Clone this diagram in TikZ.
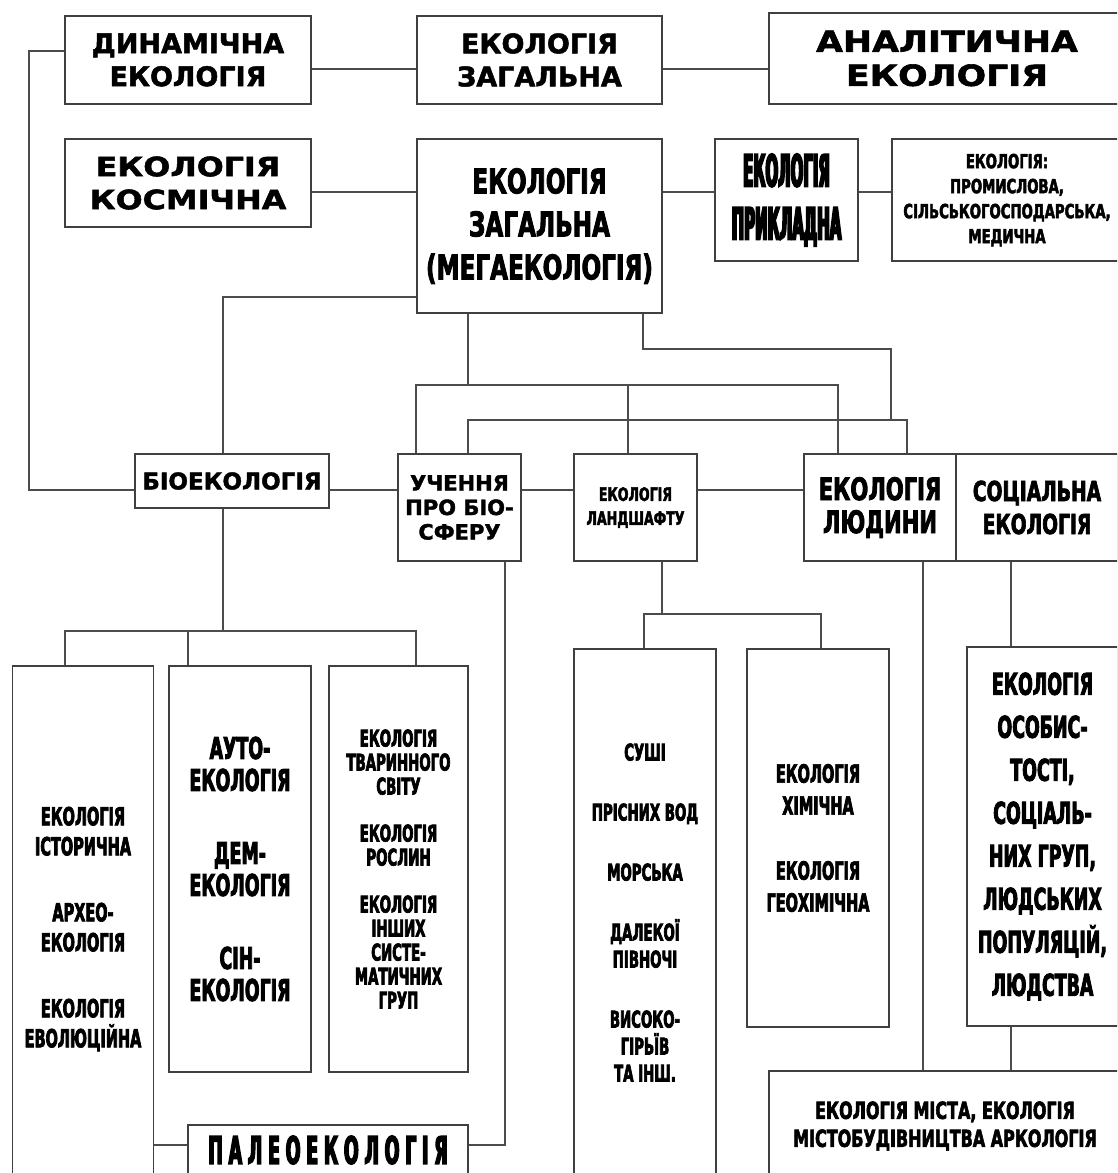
\documentclass[tikz,border=0pt]{standalone}
\usepackage{fontspec}
\setmainfont{DejaVu Sans}[BoldFeatures={FakeBold=1.8}]
\newfontfamily\wideface{DejaVu Sans}[FakeStretch=1.2, BoldFeatures={FakeBold=2}]
\newfontfamily\narrowface{DejaVu Sans}[FakeStretch=0.68, BoldFeatures={FakeBold=2.4}]
\newfontfamily\condface{DejaVu Sans}[FakeStretch=0.58, BoldFeatures={FakeBold=2.8}]
\newfontfamily\thinface{DejaVu Sans}[FakeStretch=0.34, BoldFeatures={FakeBold=4}]
\newfontfamily\paleoface{DejaVu Sans}[FakeStretch=0.46, LetterSpace=15, BoldFeatures={FakeBold=3.5}]
\newcommand\ecosize[2]{\fontsize{#1}{#2}\selectfont\bfseries}

\begin{document}
\begin{tikzpicture}[
						x=1pt, y=-1pt,
						eco/.style={draw=black!75, line width=1.8pt, align=center, inner sep=2pt},
						wire/.style={draw=black!70, line width=1.8pt}
				]
    \useasboundingbox (0,0) rectangle (1117,1173);
    \clip (0,0) rectangle (1117,1173);

    % top rows
    \node[eco, minimum width=246pt, minimum height=88pt, font=\ecosize{27}{33}] (DynamicEco) at (188,60) {ДИНАМІЧНА\\ЕКОЛОГІЯ};
    \node[eco, minimum width=245pt, minimum height=88pt, font=\ecosize{27}{33}] (GeneralTop) at (539.5,60) {ЕКОЛОГІЯ\\ЗАГАЛЬНА};
    \node[eco, minimum width=356pt, minimum height=91pt, font={\wideface\ecosize{29}{34}}] (AnalyticEco) at (947,58.5) {АНАЛІТИЧНА\\ЕКОЛОГІЯ};
    \node[eco, minimum width=246pt, minimum height=88pt, font={\wideface\ecosize{26.5}{33}}] (CosmicEco) at (188,183) {ЕКОЛОГІЯ\\КОСМІЧНА};
    \node[eco, minimum width=245pt, minimum height=174pt, font={\narrowface\ecosize{34}{43}}] (MegaEco) at (539.5,226) {ЕКОЛОГІЯ\\ЗАГАЛЬНА\\(МЕГАЕКОЛОГІЯ)};
    \node[eco, minimum width=143pt, minimum height=122pt, font={\thinface\ecosize{44}{53}}] (AppliedEco) at (786.5,200) {ЕКОЛОГІЯ\\ПРИКЛАДНА};
    \node[eco, minimum width=230pt, minimum height=122pt, font={\narrowface\ecosize{19.5}{25}}] (IndustryEco) at (1007,200) {ЕКОЛОГІЯ:\\ПРОМИСЛОВА,\\СІЛЬСЬКОГОСПОДАРСЬКА,\\МЕДИЧНА};

    % middle row
    \node[eco, minimum width=194pt, minimum height=54pt, font=\ecosize{23}{28}] (BioEco) at (232,481) {БІОЕКОЛОГІЯ};
    \node[eco, minimum width=123pt, minimum height=107pt, font=\ecosize{21}{24.5}] (Biosphere) at (459.5,507.5) {УЧЕННЯ\\ПРО БІО-\\СФЕРУ};
    \node[eco, minimum width=123pt, minimum height=107pt, font={\narrowface\ecosize{18.5}{24}}] (Landscape) at (635.5,507.5) {ЕКОЛОГІЯ\\ЛАНДШАФТУ};
    \node[eco, minimum width=152pt, minimum height=107pt, font={\narrowface\ecosize{31}{33}}] (HumanEco) at (880,507.5) {ЕКОЛОГІЯ\\ЛЮДИНИ};
    \node[eco, minimum width=162pt, minimum height=107pt, font={\narrowface\ecosize{27.5}{33}}] (SocialEco) at (1037,507.5) {СОЦІАЛЬНА\\ЕКОЛОГІЯ};

    % lower boxes
    \node[eco, minimum width=141pt, minimum height=526pt, font={\condface\ecosize{25}{30}}] (Historic) at (83,929) {ЕКОЛОГІЯ\\ІСТОРИЧНА\\[36pt]АРХЕО-\\ЕКОЛОГІЯ\\[36pt]ЕКОЛОГІЯ\\ЕВОЛЮЦІЙНА};
    \node[eco, minimum width=142pt, minimum height=406pt, font={\condface\ecosize{30}{32}}] (AutoEco) at (240,869) {АУТО-\\ЕКОЛОГІЯ\\[41pt]ДЕМ-\\ЕКОЛОГІЯ\\[41pt]СІН-\\ЕКОЛОГІЯ};
    \node[eco, minimum width=139pt, minimum height=406pt, font={\condface\ecosize{23}{24}}] (Taxa) at (398.5,869) {ЕКОЛОГІЯ\\ТВАРИННОГО\\СВІТУ\\[23pt]ЕКОЛОГІЯ\\РОСЛИН\\[23pt]ЕКОЛОГІЯ\\ІНШИХ\\СИСТЕ-\\МАТИЧНИХ\\ГРУП};
    \node[eco, minimum width=280pt, minimum height=50pt, font={\paleoface\ecosize{38}{42}}] (PaleoEco) at (328,1150) {ПАЛЕОЕКОЛОГІЯ};
    \node[eco, minimum width=142pt, minimum height=527pt, font={\condface\ecosize{23}{27}}] (Habitats) at (645,912.5) {СУШІ\\[33pt]ПРІСНИХ ВОД\\[33pt]МОРСЬКА\\[33pt]ДАЛЕКОЇ\\ПІВНОЧІ\\[33pt]ВИСОКО-\\ГІРЬЇВ\\ТА ІНШ.};
    \node[eco, minimum width=142pt, minimum height=378pt, font={\condface\ecosize{25}{32}}] (Chemical) at (818,838) {ЕКОЛОГІЯ\\ХІМІЧНА\\[33pt]ЕКОЛОГІЯ\\ГЕОХІМІЧНА};
    \node[eco, minimum width=151pt, minimum height=379pt, font={\condface\ecosize{30}{43}}] (Personality) at (1042.5,836.5) {ЕКОЛОГІЯ\\ОСОБИС-\\ТОСТІ,\\СОЦІАЛЬ-\\НИХ ГРУП,\\ЛЮДСЬКИХ\\ПОПУЛЯЦІЙ,\\ЛЮДСТВА};
    \node[eco, minimum width=352pt, minimum height=110pt, font={\narrowface\ecosize{23.5}{28}}] (City) at (945,1126) {ЕКОЛОГІЯ МІСТА, ЕКОЛОГІЯ\\МІСТОБУДІВНИЦТВА АРКОЛОГІЯ};

    % levels and bends of the links
    \coordinate (TopLink) at (0,69);
    \coordinate (MidLink) at (0,192);
    \coordinate (RowLink) at (0,490);
    \coordinate (LeftRail) at (29,51);
    \coordinate (BioStem) at (223,297);
    \coordinate (ForkA) at (65,631);
    \coordinate (ForkB) at (188,631);
    \coordinate (ForkC) at (416,631);
    \coordinate (SpineA) at (468,385);
    \coordinate (BarLeft) at (416,385);
    \coordinate (BarMid) at (628,385);
    \coordinate (BarRight) at (838,385);
    \coordinate (LowLeft) at (468,420);
    \coordinate (LowRight) at (907,420);
    \coordinate (SideLeft) at (643,349);
    \coordinate (SideRight) at (891,349);
    \coordinate (SphereStem) at (505,1145);
    \coordinate (LandFork) at (662,614);
    \coordinate (LandLeft) at (644,614);
    \coordinate (LandRight) at (821,614);
    \coordinate (HumanStem) at (923,561);
    \coordinate (SocialStem) at (1011,561);

    % Add the links
    \draw[wire] (DynamicEco.east |- TopLink) -- (GeneralTop.west |- TopLink);
    \draw[wire] (GeneralTop.east |- TopLink) -- (AnalyticEco.west |- TopLink);
    \draw[wire] (CosmicEco.east |- MidLink) -- (MegaEco.west |- MidLink);
    \draw[wire] (MegaEco.east |- MidLink) -- (AppliedEco.west |- MidLink);
    \draw[wire] (AppliedEco.east |- MidLink) -- (IndustryEco.west |- MidLink);
    \draw[wire] (DynamicEco.west |- LeftRail) -- (LeftRail) |- (BioEco.west |- RowLink);
    \draw[wire] (MegaEco.west |- BioStem) -- (BioStem) -- (BioStem |- BioEco.north);

    \draw[wire] (BioEco.east |- RowLink) -- (Biosphere.west |- RowLink);
    \draw[wire] (Biosphere.east |- RowLink) -- (Landscape.west |- RowLink);
    \draw[wire] (Landscape.east |- RowLink) -- (HumanEco.west |- RowLink);

    \draw[wire] (MegaEco.south -| SpineA) -- (SpineA);
    \draw[wire] (BarLeft |- Biosphere.north) -- (BarLeft) -- (BarRight) -- (BarRight |- HumanEco.north);
    \draw[wire] (BarMid) -- (BarMid |- Landscape.north);
    \draw[wire] (LowLeft |- Biosphere.north) -- (LowLeft) -- (LowRight) -- (LowRight |- HumanEco.north);
    \draw[wire] (MegaEco.south -| SideLeft) -- (SideLeft) -- (SideRight) -- (SideRight |- LowRight);

    \draw[wire] (BioStem |- BioEco.south) -- (BioStem |- ForkB);
    \draw[wire] (ForkA |- Historic.north) -- (ForkA) -- (ForkC) -- (ForkC |- Taxa.north);
    \draw[wire] (ForkB) -- (ForkB |- AutoEco.north);

    \draw[wire] (Biosphere.south -| SphereStem) -- (SphereStem) -- (PaleoEco.east |- SphereStem);
    \draw[wire] (Historic.east |- SphereStem) -- (PaleoEco.west |- SphereStem);

    \draw[wire] (Landscape.south -| LandFork) -- (LandFork);
    \draw[wire] (LandLeft |- Habitats.north) -- (LandLeft) -- (LandRight) -- (LandRight |- Chemical.north);

    \draw[wire] (HumanEco.south -| HumanStem) -- (HumanStem |- City.north);
    \draw[wire] (SocialEco.south -| SocialStem) -- (SocialStem |- Personality.north);
    \draw[wire] (Personality.south -| SocialStem) -- (SocialStem |- City.north);

  \end{tikzpicture}
\end{document}
